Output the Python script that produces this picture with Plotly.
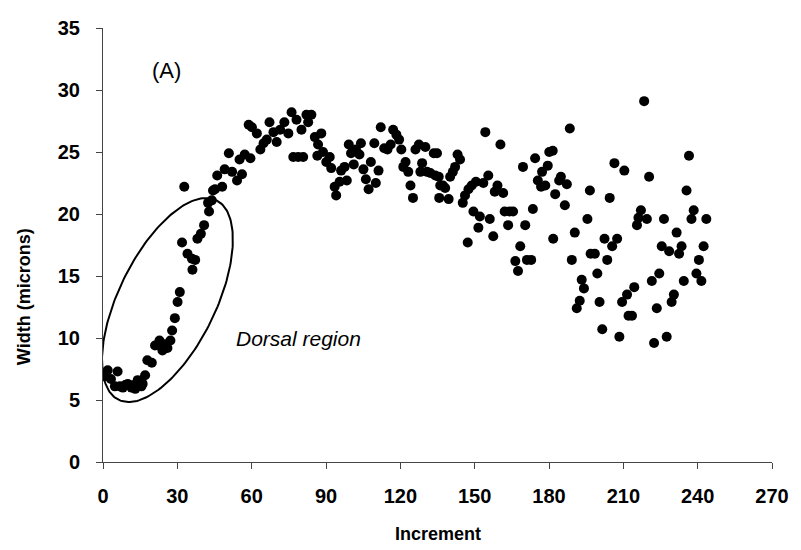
import numpy as np
import plotly.graph_objects as go

increment = [0.8, 1.9, 3.2, 4.8, 5.9, 6.8, 8.0, 9.0, 10.0, 11.5, 12.5, 13.0, 14.0, 15.5, 16.0, 17.0,
             17.9, 19.7, 21.0, 22.8, 23.5, 24.0, 25.0, 26.0, 27.2, 27.9, 29.0, 30.1, 31.0, 31.9,
             32.8, 34.1, 35.9, 36.1, 37.2, 38.1, 39.5, 40.8, 42.4, 42.8, 43.9, 44.4, 45.2, 46.1,
             48.1, 49.1, 50.8, 52.1, 54.1, 55.1, 56.1, 57.2, 58.8, 59.5, 60.1, 62.1, 63.5, 64.8,
             66.1, 67.2, 68.8, 70.1, 71.5, 73.2, 74.8, 76.1, 76.8, 78.1, 78.8, 80.1, 80.8, 82.1,
             82.8, 84.1, 85.5, 86.5, 86.8, 88.1, 88.8, 90.1, 91.5, 92.1, 93.5, 94.1, 95.5, 96.1,
             97.5, 98.4, 99.2, 100.1, 101.2, 102.1, 103.5, 104.1, 105.1, 106.1, 107.2, 108.1,
             109.5, 110.1, 111.2, 112.1, 113.5, 114.8, 116.1, 117.1, 118.4, 119.5, 120.4, 121.2,
             122.1, 123.2, 124.1, 125.1, 126.1, 127.5, 128.1, 128.8, 130.1, 130.8, 132.1, 133.5,
             134.1, 134.8, 135.5, 135.7, 136.1, 137.2, 138.1, 139.5, 140.1, 141.2, 142.1, 143.1,
             144.1, 145.2, 146.1, 147.2, 147.5, 148.8, 149.5, 150.5, 151.5, 152.1, 153.5, 154.3,
             155.5, 156.1, 157.5, 158.1, 159.2, 160.4, 161.5, 162.1, 163.5, 164.1, 165.5, 166.4,
             167.5, 168.4, 169.5, 170.4, 171.1, 172.8, 173.5, 174.4, 175.5, 176.8, 177.2, 178.5,
             179.5, 180.1, 181.5, 181.7, 182.5, 184.1, 184.8, 186.4, 187.2, 188.4, 189.2, 190.4,
             191.2, 192.4, 193.2, 194.1, 195.5, 196.5, 196.8, 198.5, 199.5, 200.4, 201.5, 202.4,
             203.5, 204.5, 205.5, 206.4, 207.5, 208.4, 209.5, 210.4, 211.5, 212.1, 213.5, 214.4,
             215.5, 216.1, 217.1, 218.4, 219.5, 220.4, 221.5, 222.4, 223.5, 224.5, 225.5, 226.4,
             227.5, 228.5, 229.5, 230.4, 231.5, 232.5, 233.5, 234.4, 235.5, 236.5, 237.5, 238.4,
             239.5, 240.5, 241.5, 242.4, 243.5]

width_microns = [6.9, 7.4, 6.7, 6.1, 7.3, 6.1, 6.0, 6.2, 6.3, 6.0, 6.2, 5.9, 6.6, 6.1, 6.3, 7.0,
                 8.2, 8.0, 9.4, 9.8, 9.3, 9.0, 9.5, 9.2, 9.8, 10.6, 11.6, 12.9, 13.7, 17.7,
                 22.2, 16.8, 16.4, 15.5, 16.3, 18.0, 18.4, 19.1, 20.9, 20.2, 21.1, 21.9, 22.0, 23.1,
                 22.2, 23.6, 24.9, 23.4, 22.7, 24.4, 23.2, 24.8, 27.2, 24.5, 27.0, 26.5, 25.2, 25.7,
                 26.0, 27.4, 26.6, 25.8, 26.8, 27.4, 26.5, 28.2, 24.6, 27.6, 24.6, 26.8, 24.6, 28.0,
                 27.4, 28.0, 26.2, 24.7, 25.6, 26.5, 25.0, 24.2, 24.6, 23.7, 22.2, 21.5, 22.6, 23.5,
                 23.8, 22.7, 25.6, 24.9, 24.0, 25.2, 24.8, 25.7, 23.6, 22.8, 22.0, 24.2,
                 25.7, 22.5, 23.5, 27.0, 25.3, 25.2, 25.6, 26.8, 26.4, 26.0, 25.2, 23.8,
                 24.2, 23.4, 22.3, 21.3, 25.2, 25.6, 23.4, 24.1, 25.4, 23.4, 23.3, 24.9,
                 23.1, 24.9, 23.0, 21.3, 22.3, 22.3, 22.1, 21.2, 23.0, 23.4, 23.8, 24.8,
                 24.4, 20.9, 21.5, 17.7, 22.0, 22.3, 20.2, 22.6, 18.9, 19.8, 22.5, 26.6,
                 23.1, 19.6, 18.2, 21.8, 22.3, 25.6, 21.7, 20.2, 19.1, 20.2, 20.2, 16.2,
                 15.4, 17.4, 23.8, 19.1, 16.3, 16.3, 20.4, 24.5, 22.7, 22.2, 23.4, 22.3,
                 23.9, 25.0, 25.1, 18.0, 21.6, 22.7, 23.0, 20.7, 22.4, 26.9, 16.3, 18.5,
                 12.4, 13.0, 14.7, 14.0, 19.6, 21.9, 16.8, 16.8, 15.2, 12.9, 10.7, 18.0,
                 16.3, 21.3, 17.4, 24.1, 18.0, 10.1, 12.9, 23.5, 13.5, 11.8, 11.8, 14.1,
                 19.1, 19.7, 20.3, 29.1, 19.6, 23.0, 14.6, 9.6, 12.4, 15.2, 17.4, 19.6,
                 10.1, 17.0, 12.9, 13.5, 18.5, 16.8, 17.4, 14.6, 21.9, 24.7, 19.6, 20.3,
                 15.2, 16.3, 14.6, 17.4, 19.6]

x_ticks = [0, 30, 60, 90, 120, 150, 180, 210, 240, 270]
y_ticks = [0, 5, 10, 15, 20, 25, 30, 35]

FONT = "Liberation Sans, Arial, sans-serif"

# plot geometry (pixels) used to build the ellipse annotation
L, R, T, B = 103, 23, 28, 88
W, H = 801, 550
X_RANGE = [0, 270]
Y_RANGE = [0, 35]
px_per_x = (W - L - R) / (X_RANGE[1] - X_RANGE[0])
px_per_y = (H - T - B) / (Y_RANGE[1] - Y_RANGE[0])

# ellipse drawn in pixel space, converted to data coordinates
cx, cy = 168, 300
a, b = 111.3, 48.8
th = np.deg2rad(63.6)
t = np.linspace(0, 2 * np.pi, 200)
px = cx + a * np.cos(t) * np.cos(th) - b * np.sin(t) * np.sin(th)
py = cy - (a * np.cos(t) * np.sin(th) + b * np.sin(t) * np.cos(th))
ex = (px - L) / px_per_x
ey = ((H - B) - py) / px_per_y

fig = go.Figure()
fig.add_trace(go.Scatter(x=ex, y=ey, mode="lines",
                         line=dict(color="black", width=2), hoverinfo="skip",
                         showlegend=False))
fig.add_trace(go.Scatter(x=increment, y=width_microns, mode="markers",
                         marker=dict(color="black", size=10), showlegend=False))

axis_common = dict(showgrid=False, zeroline=False, showline=True,
                   linecolor="#444", linewidth=1, ticks="outside", ticklen=6,
                   tickcolor="#444", tickwidth=1,
                   tickfont=dict(family=FONT, size=20, color="black", weight="bold"))

fig.update_xaxes(range=X_RANGE, tickvals=x_ticks, ticklabelstandoff=10, **axis_common)
fig.update_yaxes(range=Y_RANGE, tickvals=y_ticks, ticklabelstandoff=12, **axis_common)

fig.update_layout(
    width=W, height=H,
    margin=dict(l=L, r=R, t=T, b=B),
    paper_bgcolor="white", plot_bgcolor="white",
    annotations=[
        dict(text="Increment", xref="paper", yref="paper", x=0.5, y=-0.166,
             xanchor="center", yanchor="middle", showarrow=False,
             font=dict(family=FONT, size=18, color="black", weight="bold")),
        dict(text="Width (microns)", xref="paper", x=-0.118, yref="paper", y=0.38,
             xanchor="center", yanchor="middle", textangle=-90, showarrow=False,
             font=dict(family=FONT, size=18, color="black", weight="bold")),
        dict(text="(A)", xref="x", yref="y", x=25.6, y=31.6, showarrow=False,
             xanchor="center", yanchor="middle",
             font=dict(family=FONT, size=22, color="black")),
        dict(text="<i>Dorsal region</i>", xref="x", yref="y", x=79, y=10.0,
             showarrow=False, xanchor="center", yanchor="middle",
             font=dict(family=FONT, size=21, color="black")),
    ],
)

fig.write_html("out.html")
